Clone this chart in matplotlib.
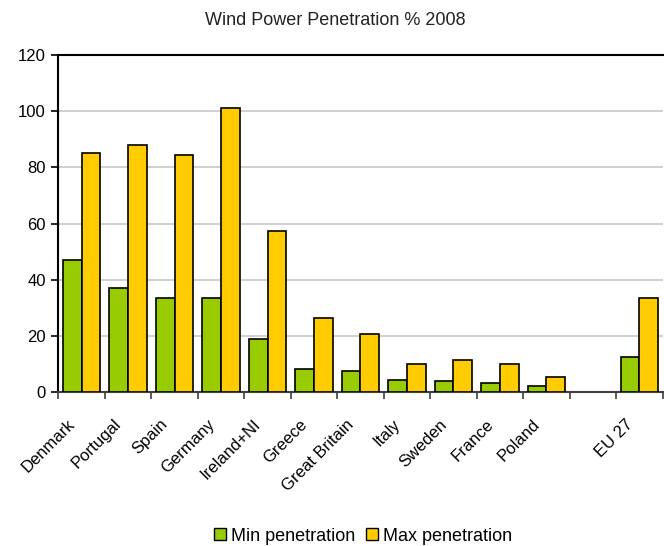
import numpy as np
import matplotlib.pyplot as plt
from matplotlib.patches import Patch
from matplotlib.transforms import ScaledTranslation

# Wind power penetration (%) in 2008, min and max estimates per country
categories = ['Denmark', 'Portugal', 'Spain', 'Germany', 'Ireland+NI', 'Greece',
              'Great Britain', 'Italy', 'Sweden', 'France', 'Poland', '', 'EU 27']
min_penetration = [47.1, 37.0, 33.4, 33.4, 19.1, 8.4, 7.4, 4.4, 3.9, 3.4, 2.3, np.nan, 12.6]
max_penetration = [85.3, 87.9, 84.3, 101.1, 57.3, 26.3, 20.6, 10.1, 11.5, 10.1, 5.3, np.nan, 33.4]

green = '#99CC00'
yellow = '#FFCC00'

plt.rcParams['font.family'] = ['Liberation Sans', 'DejaVu Sans']

fig = plt.figure(figsize=(6.64, 5.46), dpi=100)
ax = fig.add_axes([0.0878, 0.2815, 0.9102, 0.6178])

x = np.arange(len(categories))
mins = np.array(min_penetration)
maxs = np.array(max_penetration)
has_data = ~np.isnan(mins)
bar_w = 0.4

ax.bar(x[has_data] - bar_w / 2, mins[has_data], width=bar_w, color=green,
       edgecolor='black', linewidth=1.2, zorder=3)
ax.bar(x[has_data] + bar_w / 2, maxs[has_data], width=bar_w, color=yellow,
       edgecolor='black', linewidth=1.2, zorder=3)

ax.set_xlim(-0.5, len(categories) - 0.5)
ax.set_ylim(0, 120)
ax.set_yticks(range(0, 121, 20))
ax.yaxis.grid(True, color='#C8C8C8', linewidth=1.2, zorder=0)

# category boundaries carry the tick marks, labels sit at the centres
ax.set_xticks(np.arange(-0.5, len(categories) - 0.4, 1.0), minor=True)
ax.set_xticks(x)
ax.set_xticklabels(categories, rotation=45, ha='right', va='top', fontsize=12)
ax.tick_params(axis='x', which='major', length=0, pad=17.5)
ax.tick_params(axis='x', which='minor', length=5, width=1.2, color='#404040', direction='out')
ax.tick_params(axis='y', length=5, width=1.2, direction='out', labelsize=12, pad=4,
               colors='black')
shift = ScaledTranslation(-2.7 / 72, 0, fig.dpi_scale_trans)
for lbl in ax.get_xticklabels():
    lbl.set_transform(lbl.get_transform() + shift)

for side in ['left', 'top']:
    ax.spines[side].set_color('black')
    ax.spines[side].set_linewidth(1.5)
ax.spines['bottom'].set_color('#404040')
ax.spines['bottom'].set_linewidth(1.5)
ax.spines['right'].set_visible(False)

fig.text(0.505, 0.978, 'Wind Power Penetration % 2008', ha='center', va='top', fontsize=13,
         color='#222222')

handles = [Patch(facecolor=green, edgecolor='black', linewidth=1.0, label='Min penetration'),
           Patch(facecolor=yellow, edgecolor='black', linewidth=1.0, label='Max penetration')]
fig.legend(handles=handles, loc='center', bbox_to_anchor=(0.547, 0.018), ncol=2,
           frameon=False, fontsize=13, handlelength=0.65, handleheight=0.65,
           handletextpad=0.3, columnspacing=0.6, borderpad=0)

fig.savefig('out.png', dpi=100)
